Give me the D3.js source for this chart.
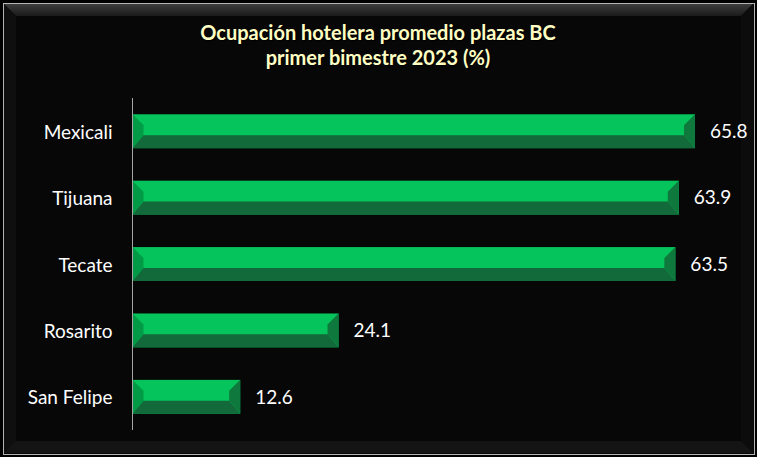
<!DOCTYPE html>
<html>
<head>
<meta charset="utf-8">
<script src="https://cdn.jsdelivr.net/npm/d3@7.9.0/dist/d3.min.js"></script>
<style>
  html, body { margin: 0; padding: 0; background: #000; }
  svg { display: block; }
  text { font-family: Lato, "Open Sans", sans-serif; }
</style>
</head>
<body>
<div id="chart"></div>
<script>
const plazas = ['Mexicali', 'Tijuana', 'Tecate', 'Rosarito', 'San Felipe'];
const ocupacion = [65.8, 63.9, 63.5, 24.1, 12.6];
const titleLines = ['Ocupación hotelera promedio plazas BC', 'primer bimestre 2023 (%)'];

const width = 757, height = 457;
const bev = 11; // bevel size on bars

const svg = d3.select('#chart').append('svg')
  .attr('width', width)
  .attr('height', height);

const defs = svg.append('defs');
const topGrad = defs.append('linearGradient').attr('id', 'frameTop')
  .attr('x1', 0).attr('y1', 0).attr('x2', 0).attr('y2', 1);
topGrad.append('stop').attr('offset', 0).attr('stop-color', '#3c3c3c');
topGrad.append('stop').attr('offset', 1).attr('stop-color', '#1a1a1a');

// outer frame with bevelled border
const fx0 = 4, fy0 = 4, fx1 = 753, fy1 = 453, fb = 12;
svg.append('rect')
  .attr('x', 3.5).attr('y', 3.5)
  .attr('width', 751).attr('height', 451)
  .attr('fill', '#070707')
  .attr('stroke', '#b4b4b4')
  .attr('stroke-width', 1);

const framePolys = [
  { pts: [[fx0, fy0], [fx1, fy0], [fx1 - fb, fy0 + fb], [fx0 + fb, fy0 + fb]], fill: 'url(#frameTop)' },
  { pts: [[fx0, fy0], [fx0 + fb, fy0 + fb], [fx0 + fb, fy1 - fb], [fx0, fy1]], fill: '#0f0f0f' },
  { pts: [[fx0, fy1], [fx0 + fb, fy1 - fb], [fx1 - fb, fy1 - fb], [fx1, fy1]], fill: '#141414' },
  { pts: [[fx1, fy0], [fx1, fy1], [fx1 - fb, fy1 - fb], [fx1 - fb, fy0 + fb]], fill: '#0c0c0c' }
];
svg.selectAll('polygon.frame')
  .data(framePolys)
  .enter()
  .append('polygon')
  .attr('class', 'frame')
  .attr('points', d => d.pts.map(p => p.join(',')).join(' '))
  .attr('fill', d => d.fill);

// title
svg.append('g')
  .selectAll('text')
  .data(titleLines)
  .enter()
  .append('text')
  .attr('x', 378)
  .attr('y', (d, i) => 40 + i * 25)
  .attr('text-anchor', 'middle')
  .attr('font-size', 20)
  .attr('font-weight', 'bold')
  .attr('fill', '#ffffc4')
  .style('text-shadow', '1px 1px 1px #000')
  .text(d => d);

// scales
const xScale = d3.scaleLinear()
  .domain([0, 70])
  .range([132.5, 132.5 + 70 * 8.549]);

const yScale = d3.scaleBand()
  .domain(plazas)
  .range([98, 430])
  .paddingInner(0.49)
  .paddingOuter(0.245);

const data = plazas.map((p, i) => ({ plaza: p, value: ocupacion[i] }));

// bars: full face first, then the bevel sides on top
const bars = svg.append('g')
  .selectAll('g')
  .data(data)
  .enter()
  .append('g');

bars.append('rect')
  .attr('x', xScale(0))
  .attr('y', d => yScale(d.plaza))
  .attr('width', d => xScale(d.value) - xScale(0))
  .attr('height', yScale.bandwidth())
  .attr('fill', '#05c45b');

function facets(d) {
  const x0 = xScale(0), x1 = xScale(d.value);
  const y0 = yScale(d.plaza), y1 = y0 + yScale.bandwidth();
  const yi0 = y0 + bev, yi1 = y1 - 13;
  return [
    { pts: [[x0, y0], [x0 + bev, yi0], [x0 + bev, yi1], [x0, y1]], fill: '#019b47' },
    { pts: [[x0, y1], [x0 + bev, yi1], [x1 - bev, yi1], [x1, y1]], fill: '#12693a' },
    { pts: [[x1, y0], [x1, y1], [x1 - bev, yi1], [x1 - bev, yi0]], fill: '#0f783d' }
  ];
}

bars.selectAll('polygon')
  .data(d => facets(d))
  .enter()
  .append('polygon')
  .attr('points', d => d.pts.map(p => p.join(',')).join(' '))
  .attr('fill', d => d.fill);

// value labels
svg.append('g')
  .selectAll('text')
  .data(data)
  .enter()
  .append('text')
  .attr('x', d => xScale(d.value) + 15)
  .attr('y', d => yScale(d.plaza) + yScale.bandwidth() / 2 + 2)
  .attr('dominant-baseline', 'middle')
  .attr('font-size', 19)
  .attr('fill', '#ffffff')
  .text(d => d.value.toFixed(1));

// category axis
const yAxis = svg.append('g')
  .attr('transform', 'translate(132.5,0)')
  .call(d3.axisLeft(yScale).tickSize(0).tickPadding(20));
yAxis.select('.domain')
  .attr('stroke', '#a6a6a6')
  .attr('d', 'M0,98V430');
yAxis.selectAll('text')
  .attr('font-family', 'Lato, "Open Sans", sans-serif')
  .attr('font-size', 19)
  .attr('fill', '#ffffff')
  .attr('dy', '0.4em');
</script>
</body>
</html>
